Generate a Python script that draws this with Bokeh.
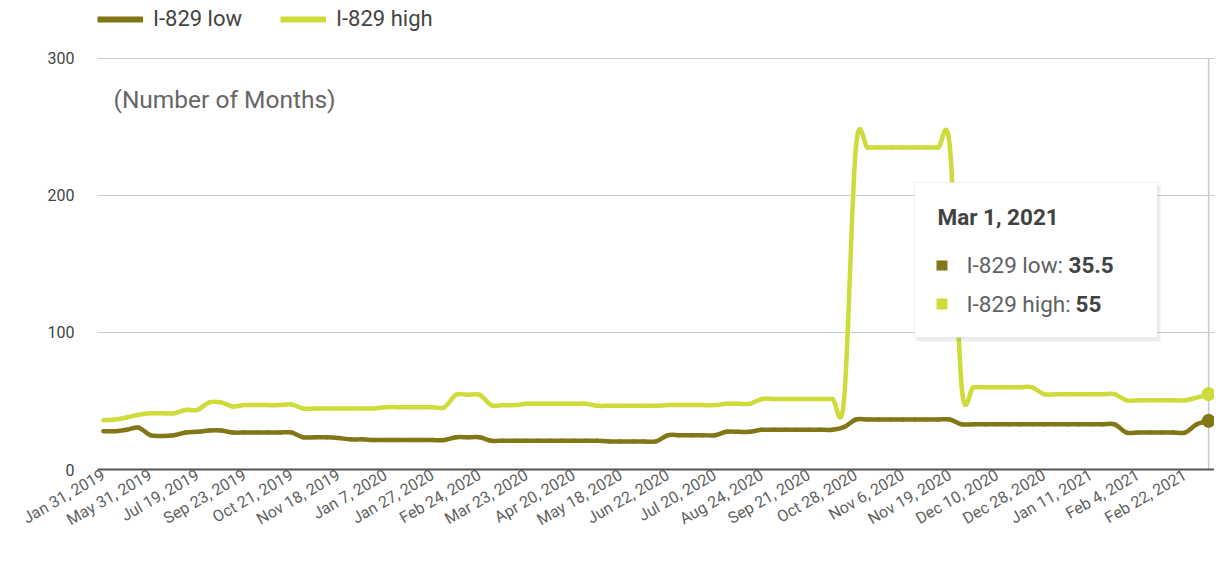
import math
from bokeh.plotting import figure
from bokeh.models import (Range1d, FixedTicker, Legend, LegendItem, Label,
                          BoxAnnotation, ColumnDataSource)
from bokeh.embed import file_html
from bokeh.resources import INLINE

# ---------------- data ----------------
dates = [
    "Jan 31, 2019", "Feb 28, 2019", "Mar 29, 2019", "Apr 30, 2019",
    "May 31, 2019", "Jun 14, 2019", "Jun 28, 2019", "Jul 12, 2019",
    "Jul 19, 2019", "Aug 2, 2019", "Aug 16, 2019", "Aug 30, 2019",
    "Sep 23, 2019", "Sep 30, 2019", "Oct 7, 2019", "Oct 14, 2019",
    "Oct 21, 2019", "Oct 28, 2019", "Nov 4, 2019", "Nov 11, 2019",
    "Nov 18, 2019", "Dec 2, 2019", "Dec 9, 2019", "Dec 23, 2019",
    "Jan 7, 2020", "Jan 13, 2020", "Jan 20, 2020", "Jan 24, 2020",
    "Jan 27, 2020", "Feb 3, 2020", "Feb 10, 2020", "Feb 17, 2020",
    "Feb 24, 2020", "Mar 2, 2020", "Mar 9, 2020", "Mar 16, 2020",
    "Mar 23, 2020", "Mar 30, 2020", "Apr 6, 2020", "Apr 13, 2020",
    "Apr 20, 2020", "Apr 27, 2020", "May 4, 2020", "May 11, 2020",
    "May 18, 2020", "May 26, 2020", "Jun 2, 2020", "Jun 12, 2020",
    "Jun 22, 2020", "Jun 29, 2020", "Jul 6, 2020", "Jul 13, 2020",
    "Jul 20, 2020", "Jul 28, 2020", "Aug 6, 2020", "Aug 14, 2020",
    "Aug 24, 2020", "Aug 31, 2020", "Sep 7, 2020", "Sep 14, 2020",
    "Sep 21, 2020", "Sep 30, 2020", "Oct 9, 2020", "Oct 19, 2020",
    "Oct 28, 2020", "Oct 30, 2020", "Nov 2, 2020", "Nov 4, 2020",
    "Nov 6, 2020", "Nov 9, 2020", "Nov 12, 2020", "Nov 16, 2020",
    "Nov 19, 2020", "Nov 23, 2020", "Nov 30, 2020", "Dec 4, 2020",
    "Dec 10, 2020", "Dec 14, 2020", "Dec 18, 2020", "Dec 22, 2020",
    "Dec 28, 2020", "Dec 31, 2020", "Jan 4, 2021", "Jan 7, 2021",
    "Jan 11, 2021", "Jan 18, 2021", "Jan 25, 2021", "Jan 29, 2021",
    "Feb 4, 2021", "Feb 8, 2021", "Feb 12, 2021", "Feb 17, 2021",
    "Feb 22, 2021", "Feb 25, 2021", "Mar 1, 2021",
]

low = [
    28, 28, 29, 30.5, 25, 24.5, 25, 27, 27.5, 28.5, 28.5, 27,
    27, 27, 27, 27, 27, 23.5, 23.5, 23.5, 23, 22, 22, 21.5,
    21.5, 21.5, 21.5, 21.5, 21.5, 21.5, 23.5, 23.5, 23.5, 21, 21, 21,
    21, 21, 21, 21, 21, 21, 21, 20.5, 20.5, 20.5, 20.5, 20.5,
    25, 25, 25, 25, 25, 27.5, 27.5, 27.5, 29, 29, 29, 29,
    29, 29, 29, 31, 36.5, 36.5, 36.5, 36.5, 36.5, 36.5, 36.5, 36.5,
    36.5, 33, 33, 33, 33, 33, 33, 33, 33, 33, 33, 33,
    33, 33, 33, 27, 27, 27, 27, 27, 27, 33, 35.5,
]

high = [
    36, 36.5, 38, 40, 41, 41, 41, 43.5, 43.5, 49, 49, 46,
    47, 47, 47, 47, 47.5, 44.5, 44.5, 44.5, 44.5, 44.5, 44.5, 44.5,
    45.5, 45.5, 45.5, 45.5, 45.5, 45.5, 54.5, 54.5, 54.5, 47, 47, 47,
    48, 48, 48, 48, 48, 48, 46.5, 46.5, 46.5, 46.5, 46.5, 46.5,
    47, 47, 47, 47, 47, 48, 48, 48, 51.5, 51.5, 51.5, 51.5,
    51.5, 51.5, 51.5, 51.5, 235, 235, 235, 235, 235, 235, 235, 235,
    235, 60, 60, 60, 60, 60, 60, 60, 55, 55, 55, 55,
    55, 55, 55, 50.5, 50.5, 50.5, 50.5, 50.5, 50.5, 52.5, 55,
]

series_names = ["I-829 low", "I-829 high"]
y_ticks = [0, 100, 200, 300]
label_every = 4

LOW_COLOR = "#827717"
HIGH_COLOR = "#CDDC39"
FONT = "Roboto"

x = list(range(len(dates)))


def smooth_source(vals):
    """Cubic (Catmull-Rom) segments through the data points, drawn as beziers."""
    n = len(vals)
    d = dict(x0=[], y0=[], x1=[], y1=[], cx0=[], cy0=[], cx1=[], cy1=[])
    for i in range(n - 1):
        ip = max(i - 1, 0)
        inn = min(i + 2, n - 1)
        d["x0"].append(x[i]); d["y0"].append(vals[i])
        d["x1"].append(x[i + 1]); d["y1"].append(vals[i + 1])
        d["cx0"].append(x[i] + (x[i + 1] - x[ip]) / 6.0)
        d["cy0"].append(vals[i] + (vals[i + 1] - vals[ip]) / 6.0)
        d["cx1"].append(x[i + 1] - (x[inn] - x[i]) / 6.0)
        d["cy1"].append(vals[i + 1] - (vals[inn] - vals[i]) / 6.0)
    return ColumnDataSource(d)


# frame covers the legend area too; the 300 line sits 58px below the top
p = figure(width=1214, height=546,
           x_range=Range1d(-0.5, 94.5), y_range=Range1d(0, 342.3),
           output_backend="svg", toolbar_location=None,
           min_border_left=97, min_border_right=0,
           min_border_top=0, min_border_bottom=77)
p.outline_line_color = None
p.background_fill_color = "white"
p.border_fill_color = "white"

# grid
p.xgrid.visible = False
p.ygrid.grid_line_color = "#cccccc"
p.ygrid.grid_line_width = 1

# y axis
p.yaxis.ticker = FixedTicker(ticks=y_ticks)
p.yaxis.axis_line_color = None
p.yaxis.major_tick_line_color = None
p.yaxis.minor_tick_line_color = None
p.yaxis.major_label_standoff = 17
p.yaxis.major_label_text_font = FONT
p.yaxis.major_label_text_font_size = "16px"
p.yaxis.major_label_text_color = "#444444"

# x axis
tick_idx = list(range(0, len(dates), label_every))
p.xaxis.ticker = FixedTicker(ticks=tick_idx)
p.xaxis.major_label_overrides = {i: dates[i] for i in tick_idx}
p.xaxis.major_label_orientation = math.pi / 6
p.xaxis.axis_line_color = "#555555"
p.xaxis.axis_line_width = 2
p.xaxis.major_tick_line_color = None
p.xaxis.minor_tick_line_color = None
p.xaxis.major_tick_out = 0
p.xaxis.major_label_standoff = 4
p.xaxis.major_label_text_font = FONT
p.xaxis.major_label_text_font_size = "16px"
p.xaxis.major_label_text_color = "#5f5f5f"

# crosshair at focused (last) point, spanning the value axis
p.segment(x0=[x[-1]], y0=[y_ticks[0]], x1=[x[-1]], y1=[y_ticks[-1]],
          line_color="#c8c8c8", line_width=1.5)

# lines
p.bezier(x0="x0", y0="y0", x1="x1", y1="y1", cx0="cx0", cy0="cy0",
         cx1="cx1", cy1="cy1", source=smooth_source(low),
         line_color=LOW_COLOR, line_width=4.5, line_cap="round")
p.bezier(x0="x0", y0="y0", x1="x1", y1="y1", cx0="cx0", cy0="cy0",
         cx1="cx1", cy1="cy1", source=smooth_source(high),
         line_color=HIGH_COLOR, line_width=4.5, line_cap="round")

# focused points
p.scatter(x=[x[-1]], y=[low[-1]], size=13, fill_color=LOW_COLOR, line_color=LOW_COLOR)
p.scatter(x=[x[-1]], y=[high[-1]], size=13, fill_color=HIGH_COLOR, line_color=HIGH_COLOR)

# legend swatch renderers (single-point lines: they draw nothing on the plot)
r_low = p.line(x=[x[0]], y=[low[0]], line_color=LOW_COLOR, line_width=6)
r_high = p.line(x=[x[0]], y=[high[0]], line_color=HIGH_COLOR, line_width=6)
legend = Legend(items=[LegendItem(label=series_names[0], renderers=[r_low]),
                       LegendItem(label=series_names[1], renderers=[r_high])],
                orientation="horizontal", location=(0, 438),
                glyph_width=46, glyph_height=24, label_standoff=10,
                spacing=38, padding=0, margin=0,
                border_line_alpha=0, background_fill_alpha=0,
                label_text_font=FONT, label_text_font_size="22px",
                label_text_color="#444444", label_height=24)
p.add_layout(legend)

# axis title inside the plot
p.add_layout(Label(x=16, y=370, x_units="screen", y_units="screen",
                   text="(Number of Months)", text_font=FONT,
                   text_font_size="24.5px", text_color="#666666",
                   text_baseline="middle"))

# tooltip box
def sbox(l, r, t, b, **kw):
    return BoxAnnotation(left=l, right=r, top=t, bottom=b,
                         left_units="screen", right_units="screen",
                         top_units="screen", bottom_units="screen", **kw)

p.add_layout(sbox(819, 1063, 284, 128, fill_color="black", fill_alpha=0.07, line_alpha=0))
p.add_layout(sbox(817, 1060, 287, 132, fill_color="white", fill_alpha=1.0,
                  line_color="#cccccc", line_width=1))
p.add_layout(Label(x=840, y=253, x_units="screen", y_units="screen",
                   text=dates[-1], text_font=FONT, text_font_size="22.5px",
                   text_font_style="bold", text_color="#424242",
                   text_baseline="middle"))
p.add_layout(sbox(839, 850, 209, 199, fill_color=LOW_COLOR, fill_alpha=1, line_alpha=0))
p.add_layout(sbox(839, 850, 171, 160, fill_color=HIGH_COLOR, fill_alpha=1, line_alpha=0))
p.add_layout(Label(x=869, y=205, x_units="screen", y_units="screen",
                   text=series_names[0] + ":", text_font=FONT,
                   text_font_size="22.5px", text_color="#616161",
                   text_baseline="middle"))
p.add_layout(Label(x=971, y=205, x_units="screen", y_units="screen",
                   text=f"{low[-1]:g}", text_font=FONT,
                   text_font_size="22.5px", text_font_style="bold",
                   text_color="#424242", text_baseline="middle"))
p.add_layout(Label(x=869, y=166, x_units="screen", y_units="screen",
                   text=series_names[1] + ":", text_font=FONT,
                   text_font_size="22.5px", text_color="#616161",
                   text_baseline="middle"))
p.add_layout(Label(x=978, y=166, x_units="screen", y_units="screen",
                   text=f"{high[-1]:g}", text_font=FONT,
                   text_font_size="22.5px", text_font_style="bold",
                   text_color="#424242", text_baseline="middle"))

open("out.html", "w").write(file_html(p, INLINE))
